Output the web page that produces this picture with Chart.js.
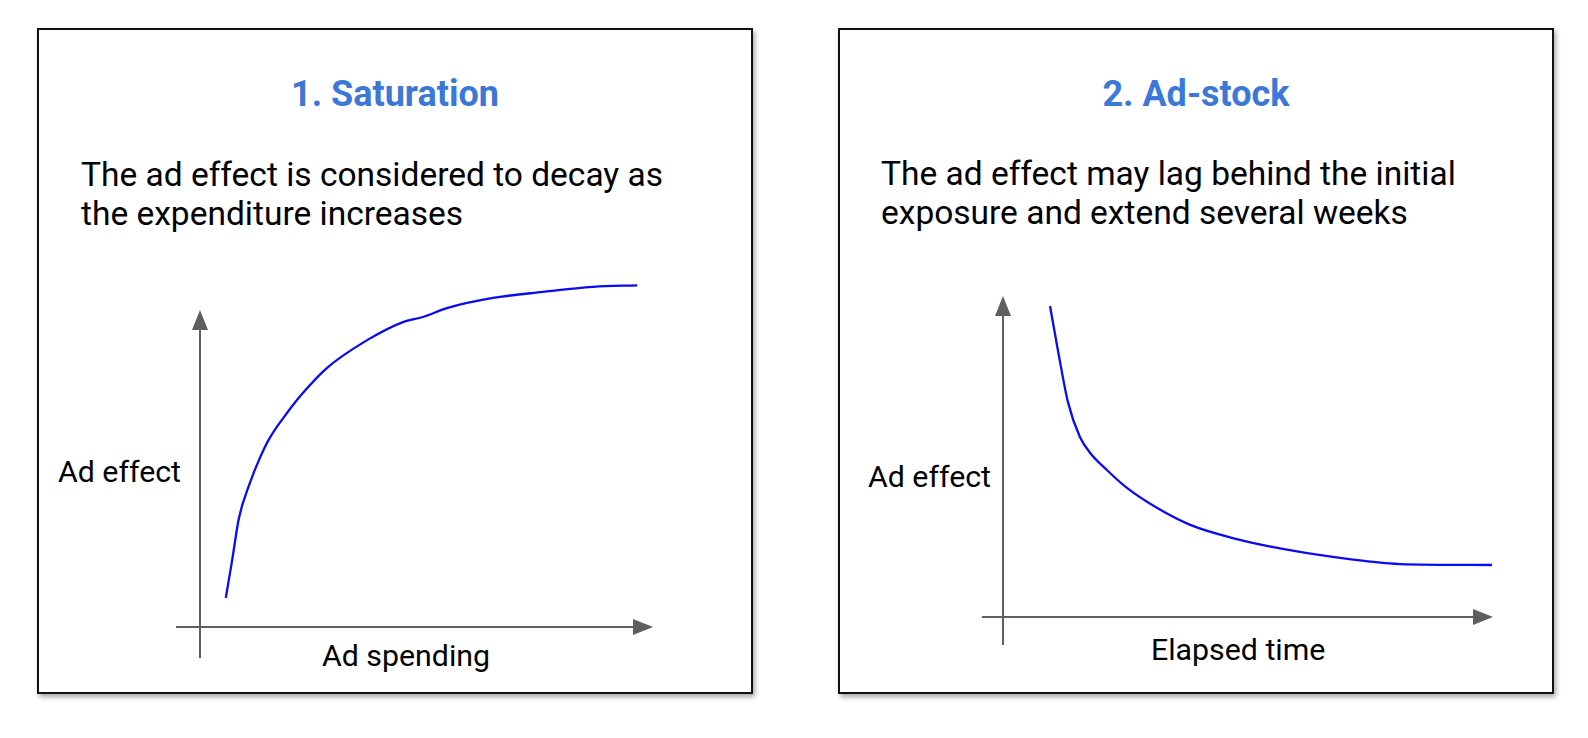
<!DOCTYPE html>
<html>
<head>
<meta charset="utf-8">
<script src="https://cdn.jsdelivr.net/npm/chart.js@4/dist/chart.umd.min.js"></script>
<style>
  html, body { margin: 0; padding: 0; background: #fff; }
  #page { position: relative; width: 1588px; height: 738px; overflow: hidden; font-family: Roboto, "Noto Sans", sans-serif; color: #000; }
  .box { position: absolute; top: 28px; width: 712px; height: 662px; border: 2px solid #111; background: #fff;
         box-shadow: 2px 3px 5px rgba(0,0,0,0.35); }
  .title { position: absolute; width: 100%; text-align: center; top: 72px; line-height: 44px; font-size: 36px; font-weight: bold; color: #3c78d8; }
  .txt { position: absolute; font-size: 33.5px; line-height: 39px; white-space: nowrap; }
  .lbl { position: absolute; font-size: 30.3px; line-height: 36px; white-space: nowrap; }
  canvas { position: absolute; }
</style>
</head>
<body>
<div id="page">
  <div class="box" style="left:37px;"></div>
  <div class="box" style="left:838px;"></div>

  <div class="title" style="left:37px;width:716px;">1. Saturation</div>
  <div class="title" style="left:838px;width:716px;">2. Ad-stock</div>

  <div class="txt" style="left:81px;top:155px;">The ad effect is considered to decay as<br>the expenditure increases</div>
  <div class="txt" style="left:881px;top:154px;">The ad effect may lag behind the initial<br>exposure and extend several weeks</div>

  <div class="lbl" style="left:58px;top:454px;">Ad effect</div>
  <div class="lbl" style="left:322px;top:638px;">Ad spending</div>
  <div class="lbl" style="left:868px;top:459px;">Ad effect</div>
  <div class="lbl" style="left:1151px;top:632px;">Elapsed time</div>

  <canvas id="sat" width="500" height="400" style="left:170px;top:270px;"></canvas>
  <canvas id="adstock" width="540" height="390" style="left:970px;top:275px;"></canvas>
</div>

<script>
// saturation curve (ad spending -> ad effect), axis arrow tips at 10
const satSpend  = [0.57, 0.71, 0.86, 1.10, 1.33, 1.55, 1.92, 2.27, 2.80, 3.69, 4.48, 4.92, 5.45, 6.47, 7.57, 8.68, 9.65];
const satEffect = [0.92, 2.11, 3.44, 4.54, 5.36, 5.99, 6.75, 7.38, 8.17, 9.05, 9.62, 9.78, 10.06, 10.38, 10.57, 10.73, 10.78];

// ad-stock curve (elapsed time -> ad effect)
const stockTime   = [0.96, 1.12, 1.33, 1.57, 1.78, 2.12, 2.53, 3.14, 3.82, 4.69, 5.71, 6.73, 8.10, 9.98];
const stockEffect = [9.69, 8.32, 6.67, 5.61, 5.11, 4.58, 4.02, 3.40, 2.87, 2.46, 2.12, 1.87, 1.65, 1.62];

const AXIS_COLOR = '#5f5f5f';
const CURVE_COLOR = '#0a0af5';

function arrowAxes(xStart, yStart) {
    return {
        id: 'arrowAxes',
        beforeDatasetsDraw(chart) {
            const ctx = chart.ctx;
            const sx = chart.scales.x, sy = chart.scales.y;
            const x0 = sx.getPixelForValue(0), y0 = sy.getPixelForValue(0);
            const xTip = sx.getPixelForValue(10), yTip = sy.getPixelForValue(10);
            const head = 20, half = 8;
            ctx.save();
            ctx.strokeStyle = AXIS_COLOR;
            ctx.fillStyle = AXIS_COLOR;
            ctx.lineWidth = 2;
            ctx.beginPath();
            ctx.moveTo(sx.getPixelForValue(xStart), y0);
            ctx.lineTo(xTip - head, y0);
            ctx.moveTo(x0, sy.getPixelForValue(yStart));
            ctx.lineTo(x0, yTip + head);
            ctx.stroke();
            ctx.beginPath();
            ctx.moveTo(xTip, y0);
            ctx.lineTo(xTip - head, y0 - half);
            ctx.lineTo(xTip - head, y0 + half);
            ctx.closePath();
            ctx.moveTo(x0, yTip);
            ctx.lineTo(x0 - half, yTip + head);
            ctx.lineTo(x0 + half, yTip + head);
            ctx.closePath();
            ctx.fill();
            ctx.restore();
        }
    };
}

function makeChart(id, xs, ys, xMin, xMax, yMin, yMax, xStart, yStart) {
    return new Chart(document.getElementById(id), {
        type: 'line',
        data: {
            datasets: [{
                data: xs.map((x, i) => ({x: x, y: ys[i]})),
                borderColor: CURVE_COLOR,
                borderWidth: 2.3,
                pointRadius: 0,
                fill: false,
                tension: 0.4,
                cubicInterpolationMode: 'monotone'
            }]
        },
        options: {
            responsive: false,
            animation: false,
            layout: {padding: 0},
            plugins: {legend: {display: false}, tooltip: {enabled: false}},
            scales: {
                x: {type: 'linear', display: false, min: xMin, max: xMax},
                y: {type: 'linear', display: false, min: yMin, max: yMax}
            }
        },
        plugins: [arrowAxes(xStart, yStart)]
    });
}

// left: origin at page (200,627), 45.3 px per x unit, 31.7 px per y unit
makeChart('sat', satSpend, satEffect, -0.662, 10.375, -1.356, 11.262, -0.53, -0.98);
// right: origin at page (1003,617), 49 px per x unit, 32.1 px per y unit
makeChart('adstock', stockTime, stockEffect, -0.673, 10.347, -1.495, 10.654, -0.43, -0.87);
</script>
</body>
</html>
